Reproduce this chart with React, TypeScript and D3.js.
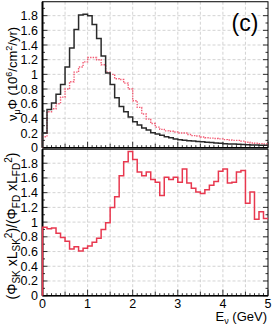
import React from "react";
import * as d3 from "d3";

// Energy bins: 0–5 GeV, 0.1 GeV width
const binEdges: number[] = d3.range(0, 5.0001, 0.1).map((v) => +v.toFixed(2));

// Top panel: SK flux (black, solid)
const skFlux: number[] = [
  0.2, 0.52, 0.61, 0.73, 0.86, 1.1, 1.36, 1.61, 1.81, 1.82,
  1.8, 1.68, 1.49, 1.25, 1.02, 0.86, 0.68, 0.56, 0.49, 0.42,
  0.355, 0.31, 0.27, 0.24, 0.205, 0.187, 0.17, 0.15, 0.137, 0.12,
  0.11, 0.1, 0.095, 0.09, 0.085, 0.08, 0.075, 0.07, 0.065, 0.06,
  0.055, 0.052, 0.05, 0.047, 0.044, 0.041, 0.038, 0.036, 0.034, 0.032,
];

// Top panel: FD flux (red, dotted)
const fdFlux: number[] = [
  0.15, 0.49, 0.53, 0.6, 0.69, 0.8, 0.9, 1.03, 1.1, 1.17,
  1.23, 1.23, 1.2, 1.13, 1.03, 1.0, 0.94, 0.93, 0.88, 0.8,
  0.64, 0.55, 0.46, 0.39, 0.33, 0.28, 0.25, 0.23, 0.225, 0.215,
  0.2, 0.2, 0.18, 0.165, 0.16, 0.145, 0.135, 0.13, 0.125, 0.12,
  0.11, 0.105, 0.1, 0.1, 0.09, 0.075, 0.065, 0.06, 0.055, 0.05,
];

// Bottom panel: ratio
const ratio: number[] = [
  0.93, 0.91, 0.92, 0.85, 0.79, 0.74, 0.635, 0.665, 0.607, 0.645,
  0.675, 0.725, 0.78, 0.9, 0.99, 1.2, 1.345, 1.63, 1.82, 1.96,
  1.85, 1.68, 1.63, 1.68, 1.58, 1.54, 1.36, 1.61, 1.58, 1.61,
  1.54, 1.72, 1.53, 1.46, 1.41, 1.39, 1.44, 1.5, 1.55, 1.69,
  1.72, 1.53, 1.54, 1.68, 1.7, 1.255, 1.41, 1.04, 1.14, 1.05,
];

const yTickLabels: number[] = [0, 0.2, 0.4, 0.6, 0.8, 1, 1.2, 1.4, 1.6, 1.8];
const xTickLabels: number[] = [0, 1, 2, 3, 4, 5];

const FONT = "'Liberation Sans', Arial, Helvetica, sans-serif";

export default function App() {
  const X0 = 42.5;
  const X1 = 268;
  const x = d3.scaleLinear().domain([0, 5]).range([X0, X1]);
  const yTop = d3.scaleLinear().domain([0, 2]).range([147.7, 1.0]);
  const yBot = d3.scaleLinear().domain([0, 2]).range([295.7, 148.5]);

  const topFrameY = yTop(1.99);
  const botFrameY = yBot(1.99);

  const histPath = (vals: number[], y: d3.ScaleLinear<number, number>) => {
    const pts: [number, number][] = [[0, 0]];
    vals.forEach((v, i) => pts.push([binEdges[i], v]));
    pts.push([binEdges[vals.length], vals[vals.length - 1]]);
    return d3
      .line<[number, number]>()
      .x((d) => x(d[0]))
      .y((d) => y(d[1]))
      .curve(d3.curveStepAfter)(pts) as string;
  };

  const gridX = d3.range(0.5, 5, 0.5);
  const minorX = d3.range(0, 5.001, 0.1).map((v) => +v.toFixed(2));
  const minorY = d3.range(0, 2.0, 0.1).map((v) => +v.toFixed(2));

  const panel = (
    y: d3.ScaleLinear<number, number>,
    frameTop: number,
    key: string
  ) => {
    const yb = y(0);
    return (
      <g key={key}>
        {gridX.map((g) => (
          <line
            key={"gx" + g}
            x1={x(g)}
            x2={x(g)}
            y1={frameTop}
            y2={yb}
            stroke="#c8c8c8"
            strokeWidth={0.8}
            strokeDasharray="3,2"
          />
        ))}
        {yTickLabels.slice(1).map((t) => (
          <line
            key={"gy" + t}
            x1={X0}
            x2={X1}
            y1={y(t)}
            y2={y(t)}
            stroke="#c8c8c8"
            strokeWidth={0.8}
            strokeDasharray="3,2"
          />
        ))}
        {minorX.map((t) => {
          const isMajor = Math.abs(t - Math.round(t)) < 1e-6;
          const isHalf = Math.abs(t * 2 - Math.round(t * 2)) < 1e-6;
          const len = isMajor ? 6 : isHalf ? 4 : 2.5;
          return (
            <line
              key={"tx" + t}
              x1={x(t)}
              x2={x(t)}
              y1={yb}
              y2={yb - len}
              stroke="#000"
              strokeWidth={0.8}
            />
          );
        })}
        {minorY.map((t) => {
          const isMajor = Math.abs(t * 5 - Math.round(t * 5)) < 1e-6;
          const len = isMajor ? 5 : 2.5;
          return (
            <g key={"ty" + t}>
              <line x1={X0} x2={X0 + len} y1={y(t)} y2={y(t)} stroke="#000" strokeWidth={0.8} />
              <line x1={X1} x2={X1 - len} y1={y(t)} y2={y(t)} stroke="#000" strokeWidth={0.8} />
            </g>
          );
        })}
        {yTickLabels.map((t) => (
          <text
            key={"ly" + t}
            x={38}
            y={y(t)}
            dy="0.36em"
            textAnchor="end"
            fontSize={12.5}
            fontFamily={FONT}
            fill="#000"
          >
            {String(t)}
          </text>
        ))}
        <rect
          x={X0}
          y={frameTop}
          width={X1 - X0}
          height={yb - frameTop}
          fill="none"
          stroke="#000"
          strokeWidth={1}
        />
        <line x1={X0} x2={X0} y1={frameTop} y2={yb} stroke="#000" strokeWidth={2} />
        <line x1={X0} x2={X1} y1={yb} y2={yb} stroke="#000" strokeWidth={1.6} />
      </g>
    );
  };

  return (
    <svg width={273} height={326} style={{ position: "absolute", left: 0, top: 0 }}>
      <rect width={273} height={326} fill="#fff" />
      {panel(yTop, topFrameY, "top")}
      {panel(yBot, botFrameY, "bot")}

      <path d={histPath(fdFlux, yTop)} fill="none" stroke="#f25c74" strokeWidth={1.4} strokeDasharray="1.4,1.2" />
      <path d={histPath(skFlux, yTop)} fill="none" stroke="#2a2a2a" strokeWidth={1.5} />

      <path d={histPath(ratio, yBot)} fill="none" stroke="#e8384f" strokeWidth={1.5} />

      {xTickLabels.map((t) => (
        <text
          key={"lx" + t}
          x={x(t)}
          y={307.5}
          textAnchor="middle"
          fontSize={12.5}
          fontFamily={FONT}
          fill="#000"
        >
          {String(t)}
        </text>
      ))}

      <text x={267} y={320.5} textAnchor="end" fontSize={13} fontFamily={FONT} fill="#000">
        E<tspan fontSize={9} dy={3}>ν</tspan>
        <tspan dy={-3}> (GeV)</tspan>
      </text>

      <text x={245} y={31} textAnchor="middle" fontSize={23} fontFamily={FONT} fill="#000">
        (c)
      </text>

      <text
        transform="translate(17,74) rotate(-90)"
        textAnchor="middle"
        fontSize={13}
        fontFamily={FONT}
        fill="#000"
      >
        ν<tspan fontSize={9} dy={3}>μ</tspan>
        <tspan dy={-3}>Φ (10</tspan>
        <tspan fontSize={9} dy={-5}>6</tspan>
        <tspan dy={5}>/cm</tspan>
        <tspan fontSize={9} dy={-5}>2</tspan>
        <tspan dy={5}>/yr)</tspan>
      </text>
      <text
        transform="translate(17,226) rotate(-90)"
        textAnchor="middle"
        fontSize={14}
        fontFamily={FONT}
        fill="#000"
      >
        (Φ<tspan fontSize={10} dy={3}>SK</tspan>
        <tspan dy={-3}> xL</tspan>
        <tspan fontSize={10} dy={3}>SK</tspan>
        <tspan fontSize={10} dy={-8}>2</tspan>
        <tspan dy={5}>)/(Φ</tspan>
        <tspan fontSize={10} dy={3}>FD</tspan>
        <tspan dy={-3}> xL</tspan>
        <tspan fontSize={10} dy={3}>FD</tspan>
        <tspan fontSize={10} dy={-8}>2</tspan>
        <tspan dy={5}>)</tspan>
      </text>
    </svg>
  );
}
